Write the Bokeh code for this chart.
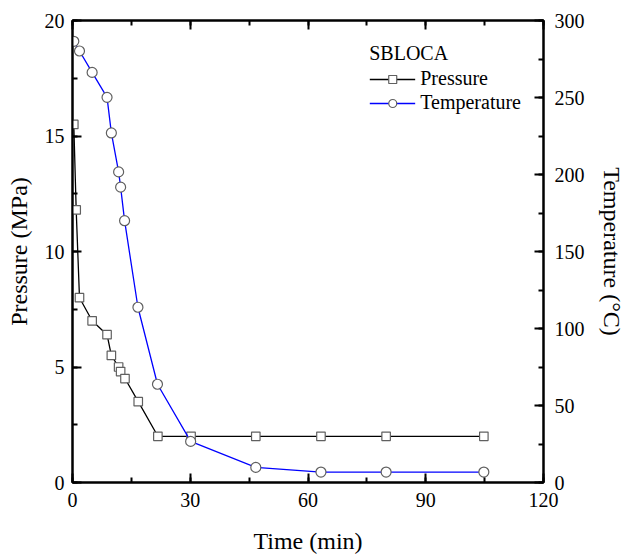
from bokeh.plotting import figure
from bokeh.models import Range1d, LinearAxis, SingleIntervalTicker, Legend, LegendItem
from bokeh.embed import file_html
from bokeh.resources import INLINE

# Data
p_time = [0.33, 0.94, 1.78, 5.0, 8.8, 9.9, 11.75, 12.26, 13.37, 16.75, 21.75, 30.2, 46.7, 63.3, 79.9, 104.8]
pressure = [15.5, 11.8, 8.0, 7.0, 6.4, 5.5, 5.0, 4.8, 4.5, 3.5, 2.0, 2.0, 2.0, 2.0, 2.0, 2.0]
t_time = [0.33, 1.78, 5.0, 8.8, 9.9, 11.75, 12.26, 13.27, 16.67, 21.65, 30.1, 46.7, 63.3, 79.9, 104.8]
temperature = [286.5, 280.2, 266.3, 250.1, 227.0, 201.7, 191.8, 170.0, 113.8, 63.8, 26.7, 9.8, 6.8, 6.8, 6.8]

FONT = "Liberation Serif"
TICK_FS = "20px"
LABEL_FS = "24px"

p = figure(width=627, height=556, output_backend="svg", toolbar_location=None,
           x_range=Range1d(0, 120), y_range=Range1d(0, 20),
           min_border_left=72, min_border_right=82, min_border_top=20, min_border_bottom=73)
p.extra_y_ranges = {"temp": Range1d(0, 300)}
p.grid.visible = False
p.outline_line_color = "black"
p.outline_line_width = 2
p.background_fill_color = "white"
p.border_fill_color = "white"

def style_axis(ax, label_hidden=False):
    ax.axis_line_width = 2
    ax.axis_line_color = "black"
    ax.major_tick_in = 9
    ax.major_tick_out = 0
    ax.minor_tick_in = 5
    ax.minor_tick_out = 0
    ax.major_tick_line_width = 2
    ax.minor_tick_line_width = 2
    ax.major_label_text_font = FONT
    ax.major_label_text_font_size = TICK_FS
    ax.major_label_text_color = None if label_hidden else "black"
    ax.axis_label_text_font = FONT
    ax.axis_label_text_font_size = LABEL_FS
    ax.axis_label_text_font_style = "normal"
    ax.axis_label_text_color = "black"

# bottom x
xa = p.xaxis[0]
xa.ticker = SingleIntervalTicker(interval=30, num_minor_ticks=2)
xa.axis_label = "Time (min)"
style_axis(xa)
xa.major_label_standoff = 10
xa.axis_label_standoff = 18

# left y
ya = p.yaxis[0]
ya.ticker = SingleIntervalTicker(interval=5, num_minor_ticks=2)
ya.axis_label = "Pressure (MPa)"
style_axis(ya)
ya.major_label_standoff = 8
ya.axis_label_standoff = 10

# right y
ra = LinearAxis(y_range_name="temp", ticker=SingleIntervalTicker(interval=50, num_minor_ticks=2),
                axis_label="Temperature (°C)")
style_axis(ra)
ra.major_label_standoff = 11
ra.axis_label_standoff = 11
p.add_layout(ra, "right")

# top x (ticks only)
ta = LinearAxis(ticker=SingleIntervalTicker(interval=30, num_minor_ticks=2))
style_axis(ta, label_hidden=True)
ta.major_label_text_font_size = "1px"
p.add_layout(ta, "above")

# Pressure
pl = p.line(p_time, pressure, line_color="black", line_width=1.3)
ps = p.scatter(p_time, pressure, marker="square", size=8.5, fill_color="white",
               line_color="#606060", line_width=1.2)

# Temperature
tl = p.line(t_time, temperature, line_color="#0000ff", line_width=1.3, y_range_name="temp")
ts = p.scatter(t_time, temperature, marker="circle", size=10, fill_color="white",
               line_color="#606060", line_width=1.2, y_range_name="temp")

legend = Legend(items=[LegendItem(label="Pressure", renderers=[pl, ps]),
                       LegendItem(label="Temperature", renderers=[tl, ts])],
                location="top_right")
legend.title = "SBLOCA"
legend.title_text_font = FONT
legend.title_text_font_size = TICK_FS
legend.title_text_font_style = "normal"
legend.title_text_color = "black"
legend.title_standoff = 2
legend.label_text_font = FONT
legend.label_text_font_size = TICK_FS
legend.label_text_color = "black"
legend.label_standoff = 5
legend.glyph_width = 46
legend.glyph_height = 20
legend.label_height = 20
legend.spacing = 1
legend.padding = 10
legend.margin = 12
legend.border_line_alpha = 0
legend.background_fill_alpha = 0
p.add_layout(legend)

open("out.html", "w").write(file_html(p, INLINE))
